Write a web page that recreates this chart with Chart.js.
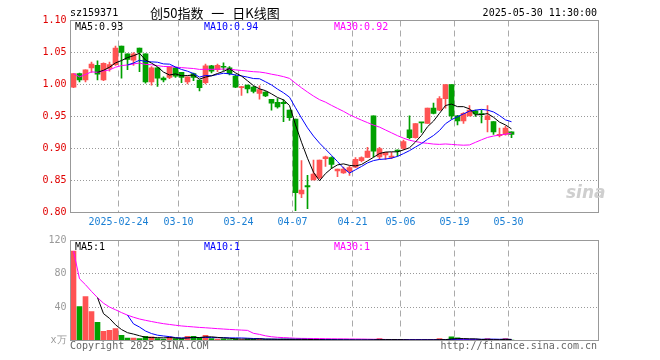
<!DOCTYPE html>
<html lang="zh">
<head>
    <meta charset="UTF-8">
    <title>创50指数 日K线图</title>
    <script src="https://cdn.jsdelivr.net/npm/chart.js"></script>
    <style>
        body { margin: 0; background: #fff; }
        #wrap { position: relative; width: 660px; height: 360px; overflow: hidden; }
        #wrap canvas { position: absolute; left: 0; top: 0; }
        .txt {
            position: absolute;
            font-family: 'DejaVu Sans Mono', monospace;
            font-size: 10px;
            line-height: 12px;
            white-space: pre;
        }
        .title {
            font-family: 'Noto Sans CJK SC', sans-serif;
            font-size: 13px;
            line-height: 16px;
            word-spacing: 5px;
        }
        .logo {
            font-family: 'DejaVu Sans', sans-serif;
            font-weight: bold;
            font-style: italic;
            font-size: 17px;
            color: #cfcfcf;
        }
    </style>
</head>
<body>
<div id="wrap">
    <canvas id="kChart" width="660" height="360"></canvas>
    <canvas id="volChart" width="660" height="360"></canvas>

    <div class="txt" style="left:70px; top:7px;">sz159371</div>
    <div class="txt title" style="left:150px; top:5px;">创50指数 一 日K线图</div>
    <div class="txt" style="right:63px; top:7px;">2025-05-30 11:30:00</div>

    <div class="txt" id="ma5Label" style="left:75px; top:21px; color:#000;"></div>
    <div class="txt" id="ma10Label" style="left:204px; top:21px; color:#0000ff;"></div>
    <div class="txt" id="ma30Label" style="left:334px; top:21px; color:#ff00ff;"></div>

    <div class="txt" id="vma5Label" style="left:75px; top:241px; color:#000;"></div>
    <div class="txt" id="vma10Label" style="left:204px; top:241px; color:#0000ff;"></div>
    <div class="txt" id="vma30Label" style="left:334px; top:241px; color:#ff00ff;"></div>

    <div class="txt logo" style="left:566px; top:186px;">sina</div>

    <div class="txt" style="left:70px; top:340px; color:#666;">Copyright 2025 SINA.COM</div>
    <div class="txt" style="right:63px; top:340px; color:#666;">http://finance.sina.com.cn</div>
</div>

<script>
    // trading days (MM-DD), 2025
    const dates = [
        '02-12', '02-13', '02-14', '02-17', '02-18', '02-19', '02-20', '02-21', '02-24', '02-25',
        '02-26', '02-27', '02-28', '03-03', '03-04', '03-05', '03-06', '03-07', '03-10', '03-11',
        '03-12', '03-13', '03-14', '03-17', '03-18', '03-19', '03-20', '03-21', '03-24', '03-25',
        '03-26', '03-27', '03-28', '03-31', '04-01', '04-02', '04-03', '04-07', '04-08', '04-09',
        '04-10', '04-11', '04-14', '04-15', '04-16', '04-17', '04-18', '04-21', '04-22', '04-23',
        '04-24', '04-25', '04-28', '04-29', '04-30', '05-06', '05-07', '05-08', '05-09', '05-12',
        '05-13', '05-14', '05-15', '05-16', '05-19', '05-20', '05-21', '05-22', '05-23', '05-26',
        '05-27', '05-28', '05-29', '05-30'
    ];
    const emptySlots = 14;
    const tickDays = ['02-24', '03-10', '03-24', '04-07', '04-21', '05-06', '05-19', '05-30'];

    const opens = [
        0.996, 1.017, 1.007, 1.026, 1.030, 1.007, 1.025, 1.031, 1.060, 1.048,
        1.038, 1.057, 1.048, 1.004, 1.026, 1.010, 1.011, 1.026, 1.019, 1.004,
        1.017, 1.007, 1.003, 1.029, 1.023, 1.028, 1.026, 1.013, 0.995, 0.999,
        0.996, 0.986, 0.988, 0.977, 0.972, 0.972, 0.960, 0.946, 0.829, 0.842,
        0.851, 0.854, 0.884, 0.886, 0.865, 0.862, 0.864, 0.871, 0.881, 0.886,
        0.951, 0.887, 0.890, 0.886, 0.897, 0.900, 0.929, 0.917, 0.941, 0.939,
        0.963, 0.960, 0.978, 1.000, 0.951, 0.943, 0.951, 0.959, 0.954, 0.945,
        0.942, 0.920, 0.922, 0.926
    ];
    const highs = [
        1.017, 1.018, 1.023, 1.035, 1.037, 1.034, 1.035, 1.060, 1.060, 1.048,
        1.050, 1.057, 1.048, 1.028, 1.027, 1.012, 1.028, 1.027, 1.019, 1.012,
        1.018, 1.007, 1.032, 1.030, 1.032, 1.034, 1.028, 1.015, 0.997, 0.999,
        0.997, 0.998, 0.989, 0.977, 0.978, 0.976, 0.960, 0.946, 0.881, 0.858,
        0.882, 0.882, 0.888, 0.887, 0.868, 0.871, 0.872, 0.886, 0.887, 0.902,
        0.951, 0.902, 0.894, 0.894, 0.898, 0.913, 0.951, 0.939, 0.941, 0.963,
        0.971, 0.981, 1.000, 1.000, 0.952, 0.956, 0.967, 0.960, 0.960, 0.967,
        0.942, 0.932, 0.935, 0.926
    ];
    const lows = [
        0.995, 1.004, 1.004, 1.019, 1.007, 1.006, 1.021, 1.030, 1.010, 1.023,
        1.030, 1.020, 1.002, 0.999, 0.997, 1.004, 1.009, 1.011, 1.003, 1.001,
        1.006, 0.990, 1.001, 1.018, 1.020, 1.022, 1.015, 0.995, 0.983, 0.987,
        0.987, 0.977, 0.981, 0.960, 0.963, 0.942, 0.944, 0.803, 0.823, 0.806,
        0.851, 0.853, 0.872, 0.869, 0.856, 0.861, 0.858, 0.870, 0.879, 0.886,
        0.887, 0.883, 0.883, 0.884, 0.888, 0.898, 0.915, 0.916, 0.925, 0.939,
        0.954, 0.959, 0.963, 0.946, 0.937, 0.939, 0.951, 0.950, 0.940, 0.926,
        0.922, 0.918, 0.921, 0.917
    ];
    const closes = [
        1.017, 1.007, 1.023, 1.032, 1.016, 1.033, 1.031, 1.057, 1.050, 1.039,
        1.048, 1.050, 1.004, 1.026, 1.010, 1.007, 1.027, 1.013, 1.011, 1.012,
        1.011, 0.995, 1.029, 1.021, 1.030, 1.027, 1.017, 0.996, 0.996, 0.993,
        0.989, 0.992, 0.982, 0.971, 0.965, 0.970, 0.948, 0.831, 0.835, 0.840,
        0.860, 0.882, 0.887, 0.875, 0.868, 0.868, 0.870, 0.883, 0.886, 0.896,
        0.896, 0.900, 0.894, 0.888, 0.896, 0.911, 0.917, 0.939, 0.940, 0.963,
        0.955, 0.978, 1.000, 0.951, 0.943, 0.955, 0.960, 0.954, 0.953, 0.951,
        0.926, 0.922, 0.932, 0.922
    ];
    // volume, unit 万
    const volumes = [
        107.3, 40.8, 52.7, 34.8, 21.8, 11.1, 12.3, 14.3, 6.3, 2.8,
        2.8, 2.4, 5.1, 4.4, 2.4, 1.6, 4.4, 2.4, 2.0, 5.1,
        5.1, 3.2, 6.3, 2.4, 1.6, 2.0, 1.2, 2.4, 1.2, 2.0,
        1.6, 2.0, 1.2, 1.2, 1.2, 1.6, 1.6, 1.4, 1.0, 0.8,
        0.8, 0.9, 0.6, 0.7, 0.6, 0.6, 0.7, 0.6, 0.6, 0.7,
        1.2, 2.2, 0.7, 0.6, 0.6, 0.7, 0.9, 0.7, 0.6, 0.9,
        0.7, 2.2, 0.9, 4.4, 3.2, 0.9, 0.7, 0.6, 0.6, 2.4,
        0.6, 0.5, 2.4, 0.5
    ];

    const RED = '#ff5353';
    const GREEN = '#00a000';
    const MONO = "'DejaVu Sans Mono', monospace";

    const labels = dates.concat(new Array(emptySlots).fill(''));
    const candleColors = closes.map((c, i) => c >= opens[i] ? RED : GREEN);

    function movingAverage(values, n, partial) {
        return values.map((v, i) => {
            if (i < n - 1 && !partial) return null;
            const win = values.slice(Math.max(0, i - n + 1), i + 1);
            return win.reduce((a, b) => a + b, 0) / win.length;
        });
    }

    const ma5 = movingAverage(closes, 5, false);
    const ma10 = movingAverage(closes, 10, false);
    const ma30 = movingAverage(closes, 30, true);
    const vma5 = movingAverage(volumes, 5, false);
    const vma10 = movingAverage(volumes, 10, false);
    const vma30 = movingAverage(volumes, 30, true);

    const last = a => a[a.length - 1];
    document.getElementById('ma5Label').textContent = 'MA5:' + last(ma5).toFixed(2);
    document.getElementById('ma10Label').textContent = 'MA10:' + last(ma10).toFixed(2);
    document.getElementById('ma30Label').textContent = 'MA30:' + last(ma30).toFixed(2);
    document.getElementById('vma5Label').textContent = 'MA5:' + Math.round(last(vma5));
    document.getElementById('vma10Label').textContent = 'MA10:' + Math.round(last(vma10));
    document.getElementById('vma30Label').textContent = 'MA30:' + Math.round(last(vma30));

    // frame around plot area
    const framePlugin = {
        id: 'frame',
        afterDatasetsDraw(chart) {
            const a = chart.chartArea;
            const ctx = chart.ctx;
            ctx.save();
            ctx.strokeStyle = '#999';
            ctx.lineWidth = 1;
            ctx.strokeRect(a.left, a.top, a.right - a.left, a.bottom - a.top);
            ctx.restore();
        }
    };

    function maLine(data, color) {
        return {
            type: 'line',
            data: data,
            borderColor: color,
            borderWidth: 1,
            pointRadius: 0,
            tension: 0,
            order: 0
        };
    }

    function xScale(showTicks, height) {
        return {
            offset: true,
            grid: {
                offset: true,
                drawTicks: false,
                lineWidth: 1,
                color: ctx => tickDays.includes(labels[ctx.index]) ? '#aaa' : 'rgba(0,0,0,0)'
            },
            border: { display: false, dash: [6, 4] },
            ticks: {
                display: showTicks,
                autoSkip: false,
                maxRotation: 0,
                minRotation: 0,
                labelOffset: -3,
                padding: 4,
                color: '#1a7fd4',
                font: { family: MONO, size: 10 },
                callback: (v, i) => {
                    const k = tickDays.indexOf(labels[i]);
                    if (k < 0) return '';
                    return k === 0 ? '2025-' + labels[i] : labels[i];
                }
            },
            afterFit: s => { s.height = height; }
        };
    }

    function yGrid() {
        return { drawTicks: false, lineWidth: 1, color: '#999' };
    }

    const common = {
        responsive: false,
        animation: false,
        events: [],
        plugins: { legend: { display: false }, tooltip: { enabled: false } }
    };

    new Chart(document.getElementById('kChart'), {
        type: 'bar',
        data: {
            labels: labels,
            datasets: [
                maLine(ma5, '#000000'),
                maLine(ma10, '#0000ff'),
                maLine(ma30, '#ff00ff'),
                {
                    data: opens.map((o, i) => [o, closes[i]]),
                    backgroundColor: candleColors,
                    barThickness: 5,
                    minBarLength: 1,
                    grouped: false,
                    order: 1
                },
                {
                    data: lows.map((l, i) => [l, highs[i]]),
                    backgroundColor: candleColors,
                    barThickness: 1,
                    grouped: false,
                    order: 2
                }
            ]
        },
        options: Object.assign({}, common, {
            layout: { padding: { top: 20.5, right: 61.5, left: 0, bottom: 0 } },
            scales: {
                x: xScale(true, 360 - 212.5),
                y: {
                    min: 0.8,
                    max: 1.1,
                    ticks: {
                        stepSize: 0.05,
                        padding: 4,
                        color: '#e00000',
                        font: { family: MONO, size: 10 },
                        callback: v => v.toFixed(2)
                    },
                    grid: yGrid(),
                    border: { display: false, dash: [1, 2] },
                    afterFit: s => { s.width = 70.5; }
                }
            }
        }),
        plugins: [framePlugin]
    });

    new Chart(document.getElementById('volChart'), {
        type: 'bar',
        data: {
            labels: labels,
            datasets: [
                maLine(vma5, '#000000'),
                maLine(vma10, '#0000ff'),
                maLine(vma30, '#ff00ff'),
                {
                    data: volumes,
                    backgroundColor: candleColors,
                    barThickness: 5,
                    grouped: false,
                    order: 1
                }
            ]
        },
        options: Object.assign({}, common, {
            layout: { padding: { top: 240.5, right: 61.5, left: 0, bottom: 0 } },
            scales: {
                x: xScale(false, 360 - 340.5),
                y: {
                    min: 0,
                    max: 120,
                    ticks: {
                        stepSize: 40,
                        padding: 4,
                        color: '#999',
                        font: { family: MONO, size: 10 },
                        callback: v => v === 0 ? 'x万' : v
                    },
                    grid: yGrid(),
                    border: { display: false, dash: [1, 2] },
                    afterFit: s => { s.width = 70.5; }
                }
            }
        }),
        plugins: [framePlugin]
    });
</script>
</body>
</html>
